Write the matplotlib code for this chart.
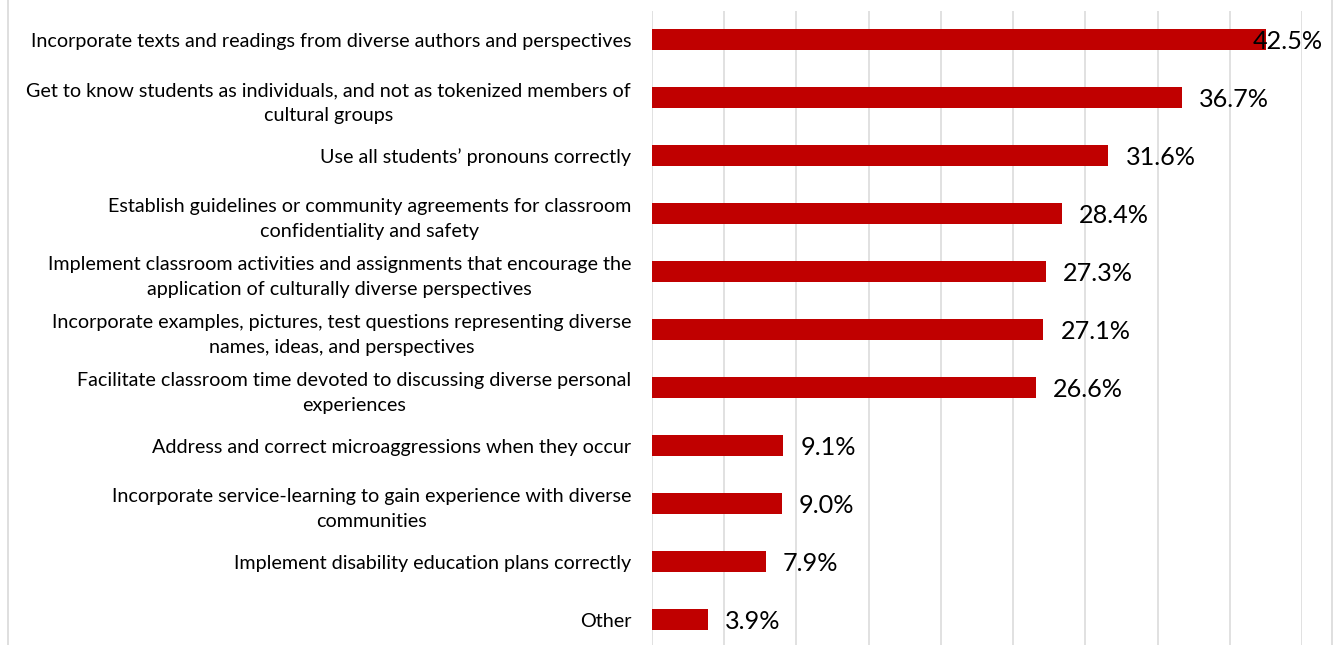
import matplotlib
matplotlib.use("Agg")
import matplotlib.pyplot as plt
import numpy as np

categories = [
    "Incorporate texts and readings from diverse authors and perspectives",
    "Get to know students as individuals, and not as tokenized members of\ncultural groups",
    "Use all students\u2019 pronouns correctly",
    "Establish guidelines or community agreements for classroom\nconfidentiality and safety",
    "Implement classroom activities and assignments that encourage the\napplication of culturally diverse perspectives",
    "Incorporate examples, pictures, test questions representing diverse\nnames, ideas, and perspectives",
    "Facilitate classroom time devoted to discussing diverse personal\nexperiences",
    "Address and correct microaggressions when they occur",
    "Incorporate service-learning to gain experience with diverse\ncommunities",
    "Implement disability education plans correctly",
    "Other",
]
values = [42.5, 36.7, 31.6, 28.4, 27.3, 27.1, 26.6, 9.1, 9.0, 7.9, 3.9]
value_labels = ["42.5%", "36.7%", "31.6%", "28.4%", "27.3%", "27.1%", "26.6%",
                "9.1%", "9.0%", "7.9%", "3.9%"]
x_ticks = [0, 5, 10, 15, 20, 25, 30, 35, 40, 45]

W, H = 1337, 645
fig = plt.figure(figsize=(W / 100, H / 100), dpi=100)
plt.rcParams['font.family'] = ['Lato', 'DejaVu Sans']

# axes placement (pixels)
left_px, right_px = 652, 1302
top_px, bot_px = 10.7, 648.8
ax = fig.add_axes([left_px / W, (H - bot_px) / H, (right_px - left_px) / W, (bot_px - top_px) / H])

n = len(categories)
y = np.arange(n)
ax.barh(y, values, height=0.36, color="#C00000", zorder=3)
ax.set_ylim(n - 0.5, -0.5)
ax.set_xlim(0, 45)
ax.set_xticks(x_ticks)
ax.xaxis.grid(True, color="#D9D9D9", linewidth=1.1, zorder=0)
ax.tick_params(axis='x', length=0, labelbottom=False)
ax.tick_params(axis='y', length=0, pad=15)
ax.set_yticks(y)
ax.set_yticklabels(categories, fontsize=14.2, color="#000000")
for t in ax.get_yticklabels():
    t.set_multialignment('center')
    t.set_linespacing(1.58)
for s in ax.spines.values():
    s.set_visible(False)

# value labels
px_per_unit = (right_px - left_px) / 45.0
offset = 17 / px_per_unit
label_w = 69 / px_per_unit
limit = (1322 - left_px) / px_per_unit
for yi, v, lab in zip(y, values, value_labels):
    xt = min(v + offset, limit - label_w)
    ax.text(xt, yi + 0.03, lab, ha='left', va='center', fontsize=18.2,
            color="#000000", clip_on=False, zorder=4)

# chart border lines
for xp in (8, 1332):
    fig.add_artist(plt.Line2D([xp / W, xp / W], [0, 1], color="#D9D9D9", linewidth=1.2))

fig.savefig("out.png", dpi=100)
